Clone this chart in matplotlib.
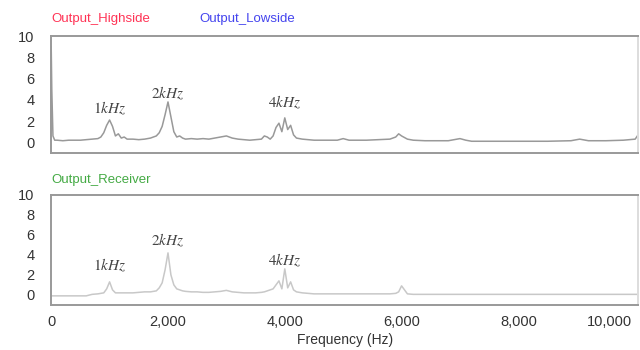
import numpy as np
import matplotlib.pyplot as plt
from matplotlib.transforms import ScaledTranslation

plt.rcParams['font.family'] = ['Liberation Sans', 'DejaVu Sans']
plt.rcParams['mathtext.fontset'] = 'stix'

# frequency grid (Hz)
freq = [0, 10, 30, 60, 100, 200, 300, 400, 500, 600, 700, 800, 850, 900, 950,
        1000, 1050, 1100, 1150, 1200, 1250, 1300, 1400, 1500, 1600, 1700, 1800,
        1850, 1900, 1950, 2000, 2050, 2100, 2150, 2200, 2250, 2300, 2400, 2500,
        2600, 2700, 2800, 2900, 3000, 3100, 3200, 3300, 3400, 3500, 3600, 3650,
        3700, 3750, 3800, 3850, 3900, 3950, 4000, 4050, 4100, 4150, 4200, 4300,
        4400, 4500, 4600, 4700, 4800, 4900, 5000, 5100, 5200, 5400, 5600, 5800,
        5900, 5950, 6000, 6100, 6200, 6400, 6600, 6800, 6950, 7000, 7100, 7200,
        7500, 8000, 8500, 8900, 9050, 9200, 9500, 9800, 10000, 10050]

# top panel (Output_Highside / Output_Lowside)
amp_top = [9.0, 5.0, 0.6, 0.2, 0.2, 0.15, 0.2, 0.2, 0.2, 0.25, 0.3, 0.35, 0.5, 0.9, 1.6,
           2.1, 1.5, 0.6, 0.8, 0.4, 0.5, 0.3, 0.3, 0.25, 0.3, 0.4, 0.6,
           0.9, 1.5, 2.6, 3.8, 2.4, 1.0, 0.5, 0.6, 0.4, 0.3, 0.35, 0.3,
           0.35, 0.3, 0.4, 0.5, 0.6, 0.4, 0.3, 0.25, 0.2, 0.25, 0.3, 0.6,
           0.5, 0.3, 0.6, 1.4, 1.8, 1.0, 2.3, 1.2, 1.6, 0.7, 0.4, 0.3,
           0.25, 0.2, 0.2, 0.2, 0.2, 0.2, 0.35, 0.2, 0.2, 0.2, 0.25, 0.3,
           0.5, 0.8, 0.6, 0.3, 0.2, 0.15, 0.15, 0.15, 0.3, 0.35, 0.2, 0.1,
           0.1, 0.1, 0.1, 0.15, 0.3, 0.15, 0.15, 0.2, 0.3, 0.7]

# bottom panel (Output_Receiver)
amp_rx = [-0.1, -0.1, -0.1, -0.1, -0.1, -0.1, -0.1, -0.1, -0.1, -0.1, 0.05, 0.1, 0.15, 0.2, 0.6,
          1.3, 0.5, 0.2, 0.2, 0.2, 0.2, 0.2, 0.2, 0.25, 0.3, 0.3, 0.4,
          0.7, 1.2, 2.5, 4.2, 2.0, 1.0, 0.6, 0.5, 0.4, 0.35, 0.3, 0.3,
          0.25, 0.25, 0.3, 0.35, 0.45, 0.3, 0.25, 0.2, 0.2, 0.2, 0.25, 0.3,
          0.4, 0.5, 0.6, 1.0, 1.4, 0.6, 2.6, 0.7, 1.3, 0.5, 0.3, 0.2,
          0.15, 0.1, 0.1, 0.1, 0.1, 0.1, 0.1, 0.1, 0.1, 0.1, 0.1, 0.1,
          0.15, 0.3, 0.9, 0.1, 0.05, 0.05, 0.05, 0.05, 0.05, 0.05, 0.05, 0.05,
          0.05, 0.05, 0.05, 0.05, 0.05, 0.05, 0.05, 0.05, 0.05, 0.05]

peak_labels = ['1kHz', '2kHz', '4kHz']
peak_x = [1000, 2000, 4000]
peak_y_top = [3.2, 4.6, 3.8]
peak_y_rx = [3.0, 5.5, 3.5]

yticks = [0, 2, 4, 6, 8, 10]
xticks = [0, 2000, 4000, 6000, 8000, 10000]

fig = plt.figure(figsize=(6.4, 3.5), dpi=100)
ax1 = fig.add_axes([0.08, 0.563, 0.917, 0.334])
ax2 = fig.add_axes([0.08, 0.129, 0.917, 0.314])

ax1.plot(freq, amp_top, color='#999999', lw=1.1)
ax2.plot(freq, amp_rx, color='#c8c8c8', lw=1.1)

for ax, py in ((ax1, peak_y_top), (ax2, peak_y_rx)):
    ax.set_xlim(0, 10050)
    ax.set_ylim(-1, 10)
    ax.set_yticks(yticks)
    ax.tick_params(length=0, labelsize=10.5, colors='#333333')
    ax.tick_params(axis='y', pad=12)
    ax.tick_params(axis='x', pad=7)
    for s in ax.spines.values():
        s.set_color('#999999')
        s.set_linewidth(1.4)
    ax.spines['right'].set_color('#dddddd')
    for lab, x, y in zip(peak_labels, peak_x, py):
        ax.text(x, y, '$' + lab + '$', ha='center', va='center', fontsize=11, color='#444444')

ax1.set_xticks([])
ax2.set_xticks(xticks)
ax2.set_xticklabels(['{:,}'.format(t) for t in xticks])
# last label pushed inside the figure edge, like the original
last = ax2.get_xticklabels()[-1]
last.set_horizontalalignment('right')
last.set_transform(last.get_transform() + ScaledTranslation(-3 / 100, 0, fig.dpi_scale_trans))
ax2.set_xlabel('Frequency (Hz)', fontsize=10, color='#333333', labelpad=3)

fig.text(0.081, 0.945, 'Output_Highside', color='#ff3355', fontsize=9.5, va='center')
fig.text(0.312, 0.945, 'Output_Lowside', color='#4444ee', fontsize=9.5, va='center')
fig.text(0.081, 0.486, 'Output_Receiver', color='#44aa44', fontsize=9.5, va='center')

fig.savefig('out.png', dpi=100)
